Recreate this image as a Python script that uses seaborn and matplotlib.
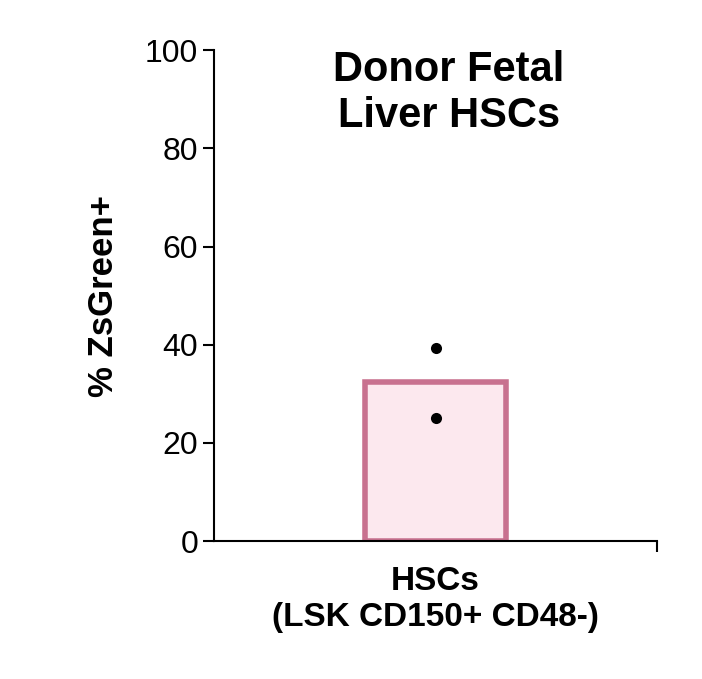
import seaborn as sns
import matplotlib.pyplot as plt
import pandas as pd

plt.rcParams["font.family"] = "Liberation Sans"

categories = ["HSCs\n(LSK CD150+ CD48-)"]
bar_means = [32.4]
point_values = [39.3, 25.0]

fig = plt.figure(figsize=(7.02, 6.79), dpi=100)
ax = fig.add_axes([0.305, 0.203, 0.631, 0.723])

bars = pd.DataFrame({"cat": categories, "val": bar_means})
sns.barplot(data=bars, x="cat", y="val", ax=ax, width=0.32, saturation=1,
            color="#fce8ee", edgecolor="#c8718f", linewidth=4, errorbar=None)
pts = pd.DataFrame({"cat": categories * len(point_values), "val": point_values})
sns.stripplot(data=pts, x="cat", y="val", ax=ax, color="black", size=8, jitter=False)

ax.set_xlim(-0.5, 0.5)
ax.set_ylim(0, 100)
ax.set_yticks([0, 20, 40, 60, 80, 100])
ax.tick_params(axis="y", labelsize=23, length=8, width=1.5)
ax.tick_params(axis="x", labelsize=24, length=0, pad=18)
ax.set_xticks([0.5], minor=True)
ax.tick_params(axis="x", which="minor", length=8, width=1.5)
for lbl in ax.get_xticklabels():
    lbl.set_fontweight("bold")
ax.set_xlabel("")
ax.set_ylabel("% ZsGreen+", fontsize=25, fontweight="bold", labelpad=18)
for s in ["top", "right"]:
    ax.spines[s].set_visible(False)
for s in ["left", "bottom"]:
    ax.spines[s].set_linewidth(1.5)
ax.text(0.53, 1.0, "Donor Fetal\nLiver HSCs", transform=ax.transAxes, ha="center",
        va="top", fontsize=30, fontweight="bold", linespacing=1.2)

fig.savefig("out.png", dpi=100)
